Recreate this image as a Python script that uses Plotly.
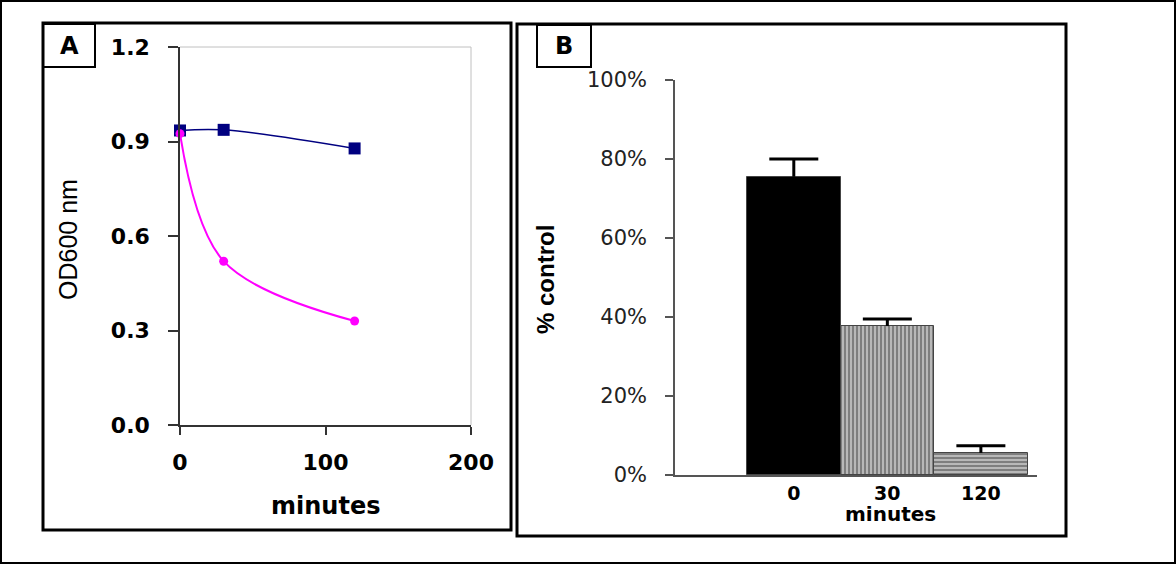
import plotly.graph_objects as go

# ---------------- data ----------------
# Panel A: OD600 over time
minutes_a = [0, 30, 120]
od_control = [0.935, 0.937, 0.878]
od_treated = [0.925, 0.52, 0.33]
ticks_a_x = [0, 100, 200]
ticks_a_y = [0, 0.3, 0.6, 0.9, 1.2]

# Panel B: % control
categories_b = ["0", "30", "120"]
pct_control = [75.5, 37.7, 5.6]
pct_err_plus = [4.5, 1.8, 1.8]
ticks_b_y = [0, 20, 40, 60, 80, 100]
ticks_b_text = ["0%", "20%", "40%", "60%", "80%", "100%"]

W, H = 1176, 565


def px(x):
    return x / W


def py(y):
    return 1 - y / H


BOLD = "DejaVu Sans"
fig = go.Figure()

# Panel A traces
fig.add_trace(go.Scatter(
    x=minutes_a, y=od_control, mode="lines+markers", cliponaxis=False,
    line=dict(color="#000080", width=1.5, shape="spline"),
    marker=dict(symbol="square", size=12, color="#000080"),
    xaxis="x", yaxis="y", showlegend=False))
fig.add_trace(go.Scatter(
    x=minutes_a, y=od_treated, mode="lines+markers", cliponaxis=False,
    line=dict(color="#FF00FF", width=2, shape="spline", smoothing=1.0),
    marker=dict(symbol="circle", size=9, color="#FF00FF"),
    xaxis="x", yaxis="y", showlegend=False))

# Panel B bars (error stems only, caps drawn as a separate marker trace)
fig.add_trace(go.Bar(
    x=categories_b, y=pct_control,
    marker=dict(
        color=["#000000", "#b8b8b8", "#b8b8b8"],
        line=dict(color="#444444", width=1),
        pattern=dict(shape=["", "|", "-"], fgcolor="#3a3a3a",
                     size=4, solidity=0.5, fillmode="overlay"),
    ),
    error_y=dict(type="data", symmetric=False, array=pct_err_plus,
                 arrayminus=[0, 0, 0], color="#000000", thickness=3, width=0),
    xaxis="x2", yaxis="y2", showlegend=False, width=1.0))
fig.add_trace(go.Scatter(
    x=categories_b, y=[v + e for v, e in zip(pct_control, pct_err_plus)],
    mode="markers", marker=dict(symbol="line-ew", size=35,
                                line=dict(color="#000000", width=3)),
    xaxis="x2", yaxis="y2", showlegend=False, hoverinfo="skip"))

shapes = []
# outer border
shapes.append(dict(type="rect", xref="paper", yref="paper",
                   x0=px(1), x1=px(1175), y0=py(1), y1=py(563),
                   line=dict(color="#000", width=2)))
# panel frames
shapes.append(dict(type="rect", xref="paper", yref="paper",
                   x0=px(43), x1=px(511), y0=py(23), y1=py(530),
                   line=dict(color="#000", width=3)))
shapes.append(dict(type="rect", xref="paper", yref="paper",
                   x0=px(517), x1=px(1066), y0=py(24), y1=py(536),
                   line=dict(color="#000", width=3)))
# label boxes
shapes.append(dict(type="rect", xref="paper", yref="paper",
                   x0=px(43), x1=px(95), y0=py(24), y1=py(67),
                   line=dict(color="#000", width=2)))
shapes.append(dict(type="rect", xref="paper", yref="paper",
                   x0=px(537), x1=px(591), y0=py(25), y1=py(67),
                   line=dict(color="#000", width=2)))
# light plot-area border (top and right) in panel A
shapes.append(dict(type="line", xref="x domain", yref="y domain",
                   x0=0, x1=1, y0=1, y1=1, line=dict(color="#c0c0c0", width=1)))
shapes.append(dict(type="line", xref="x domain", yref="y domain",
                   x0=1, x1=1, y0=0, y1=1, line=dict(color="#c0c0c0", width=1)))


def label(text, x, y, size, bold=True, family=BOLD, angle=0):
    return dict(text=text, x=px(x), y=py(y), xref="paper", yref="paper",
                showarrow=False, xanchor="center", yanchor="middle", textangle=angle,
                font=dict(family=family, size=size, color="#000",
                          weight="bold" if bold else "normal"))


annotations = [
    label("A", 69, 46, 24),
    label("B", 564, 46, 24),
    label("OD600 nm", 68, 240, 25, bold=False, family="Liberation Sans", angle=-90),
    label("minutes", 325, 506, 24),
    label("% control", 545, 280, 24, family="Liberation Sans", angle=-90),
    label("minutes", 890, 514, 20),
]

fig.update_layout(
    width=W, height=H, margin=dict(l=0, r=0, t=0, b=0, autoexpand=False),
    paper_bgcolor="white", plot_bgcolor="white",
    bargap=0,
    xaxis=dict(domain=[px(180), px(471)], range=[0, 200], anchor="y", automargin=False,
               tickvals=ticks_a_x, ticks="outside", ticklen=8, tickwidth=1.5,
               tickcolor="#333", showline=True, linecolor="#333", linewidth=1.5,
               showgrid=False, zeroline=False, ticklabelstandoff=9,
               tickfont=dict(family=BOLD, size=22, color="#000", weight="bold")),
    yaxis=dict(domain=[py(425), py(47)], range=[0, 1.2], anchor="x", automargin=False,
               tickvals=ticks_a_y, tickformat=".1f",
               ticks="outside", ticklen=10, tickwidth=1.5, tickcolor="#333",
               showline=True, linecolor="#333", linewidth=1.5,
               showgrid=False, zeroline=False, ticklabelstandoff=14,
               tickfont=dict(family=BOLD, size=22, color="#000", weight="bold")),
    xaxis2=dict(domain=[px(675), px(1037)], range=[-1.27, 2.6], anchor="y2", automargin=False,
                type="category", ticks="", showline=True, linecolor="#555",
                linewidth=2, showgrid=False, zeroline=False, ticklabelstandoff=0,
                tickfont=dict(family=BOLD, size=19, color="#000", weight="bold")),
    yaxis2=dict(domain=[py(475), py(80)], range=[0, 100], anchor="x2", automargin=False,
                tickvals=ticks_b_y, ticktext=ticks_b_text,
                ticks="outside", ticklen=8, tickwidth=1.5, tickcolor="#555",
                showline=True, linecolor="#555", linewidth=1.5,
                showgrid=False, zeroline=False, ticklabelstandoff=14,
                tickfont=dict(family="DejaVu Sans", size=21, color="#222")),
    shapes=shapes, annotations=annotations,
)

fig.write_html("out.html", config={"displayModeBar": False},
               post_script="document.body.style.margin='0';document.body.style.overflow='hidden';")
